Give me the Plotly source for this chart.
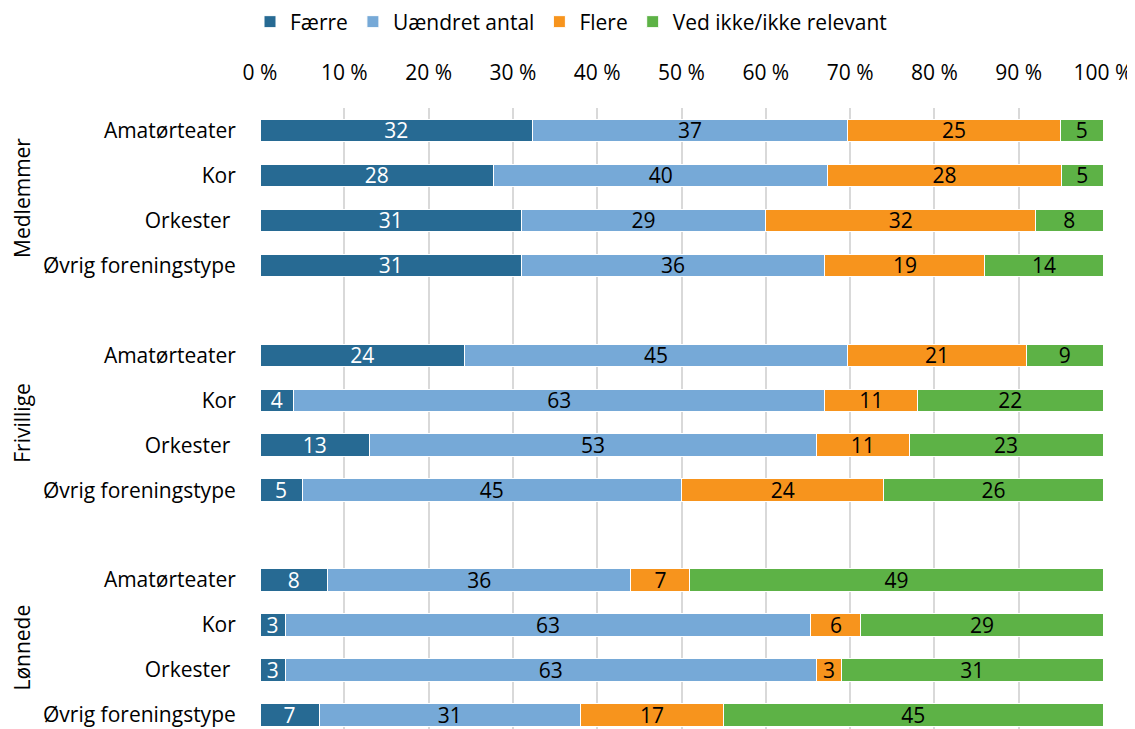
import plotly.graph_objects as go

groups = ["Medlemmer", "Frivillige", "Lønnede"]
categories = ["Amatørteater", "Kor", "Orkester\u00a0", "Øvrig foreningstype"]
series_names = ["Færre", "Uændret antal", "Flere", "Ved ikke/ikke relevant"]
colors = ["#276A93", "#76A9D7", "#F7941D", "#5DB246"]
text_colors = ["white", "black", "black", "black"]

faerre   = [32, 28, 31, 31, 24, 4, 13, 5, 8, 3, 3, 7]
uaendret = [37, 40, 29, 36, 45, 63, 53, 45, 36, 63, 63, 31]
flere    = [25, 28, 32, 19, 21, 11, 11, 24, 7, 6, 3, 17]
vedikke  = [5, 5, 8, 14, 9, 22, 23, 26, 49, 29, 31, 45]
x_ticks = [0, 10, 20, 30, 40, 50, 60, 70, 80, 90, 100]

series = [faerre, uaendret, flere, vedikke]

ypos = []
ylabels = []
for gi, g in enumerate(groups):
    for ci, c in enumerate(categories):
        ypos.append(gi * 5 + ci)
        ylabels.append(c)

FONT = "Open Sans"
FS = 21
OFF = 8  # page body margin
W, H = 1135 - OFF, 729 - OFF
L, R = 260 - OFF, 1103 - OFF
row0 = 130 - OFF
row_px = 45
T = row0 - 0.5 * row_px
bottom_v = (H - row0) / row_px

fig = go.Figure()
for name, vals, col, tc in zip(series_names, series, colors, text_colors):
    fig.add_trace(go.Bar(
        y=ypos, x=vals, orientation="h", name=name,
        marker=dict(color=col, line=dict(color="white", width=1)),
        width=0.5,
        text=vals, texttemplate="%{text}", textposition="inside",
        insidetextanchor="middle", textangle=0, constraintext="none",
        textfont=dict(color=tc, size=FS, family=FONT),
        hoverinfo="skip",
    ))

fig.update_layout(
    barmode="stack", barnorm="percent",
    width=W, height=H,
    margin=dict(l=L, r=W - R, t=T, b=0, pad=0, autoexpand=False),
    plot_bgcolor="white", paper_bgcolor="white",
    font=dict(family=FONT, size=FS, color="black"),
    legend=dict(orientation="h", xref="container", x=(571 - OFF) / W, xanchor="center",
                yref="container", y=1 - (22 - OFF) / H, yanchor="middle",
                font=dict(size=FS), traceorder="normal",
                itemwidth=30, bgcolor="rgba(0,0,0,0)"),
    xaxis=dict(side="top", range=[0, 100], tickvals=x_ticks,
               ticktext=[f"{v} %" for v in x_ticks],
               showgrid=True, gridcolor="#D9D9D9", gridwidth=2,
               zeroline=False, showline=False,
               ticks="outside", ticklen=19, tickcolor="rgba(0,0,0,0)",
               tickfont=dict(size=FS), fixedrange=True),
    yaxis=dict(tickvals=ypos, ticktext=ylabels,
               range=[bottom_v, -0.5],
               showgrid=False, zeroline=False, showline=False,
               ticks="outside", ticklen=19, tickcolor="rgba(0,0,0,0)",
               tickfont=dict(size=FS), fixedrange=True),
)

for gi, g in enumerate(groups):
    center_v = gi * 5 + 1.5
    fig.add_annotation(
        text=g, textangle=-90, showarrow=False,
        xref="paper", x=(22 - 260) / (1103 - 260), xanchor="center",
        yref="y", y=center_v, yanchor="middle",
        font=dict(size=FS, family=FONT),
    )

fig.write_html("out.html")
